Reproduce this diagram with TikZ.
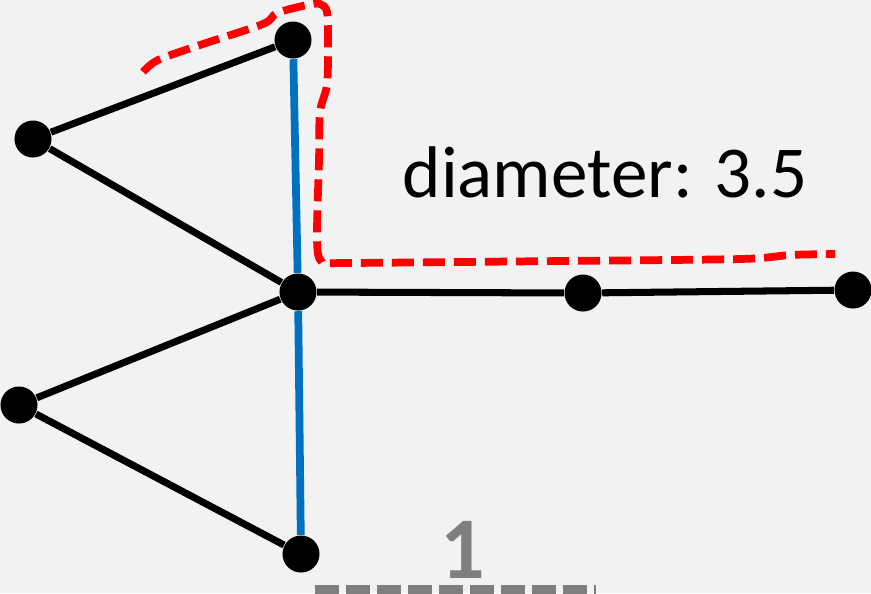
\documentclass[tikz,border=0pt]{standalone}
\usepackage{fontspec}
\setmainfont{Carlito}
\definecolor{bg}{HTML}{F2F2F2}
\definecolor{myblue}{HTML}{0070C0}
\definecolor{mygray}{HTML}{7F7F7F}
\begin{document}
\begin{tikzpicture}[x=0.01cm,y=-0.01cm,
  vtx/.style={circle,fill=black,minimum size=0.37cm,inner sep=0pt},
  edge/.style={line width=2pt,black},
  bedge/.style={line width=2.2pt,myblue},
  reddash/.style={line width=2.2pt,red,dash pattern=on 0.22cm off 0.09cm},
  graydash/.style={line width=3pt,mygray,dash pattern=on 0.24cm off 0.07cm}]
\fill[bg] (0,0) rectangle (871,593);
\useasboundingbox (0,0) rectangle (871,593);
% red dashed path
\draw[reddash] plot[smooth,tension=0.5] coordinates {(143,72) (158,60) (200,45) (263,24) (277,13) (307,5) (320,4) (327,12) (328,45) (327,85) (320,112) (319,160) (317,240) (322,262) (345,263) (560,261) (740,259) (790,255) (835,254)};
% gray dashed line
\coordinate (g1) at (315,590);
\coordinate (g2) at (596,590);
\draw[graydash] (g1) -- (g2);
% vertices
\node[vtx] (t) at (293,40) {};
\node[vtx] (lt) at (33,139) {};
\node[vtx] (c) at (298,292) {};
\node[vtx] (m) at (583,293) {};
\node[vtx] (r) at (853,290) {};
\node[vtx] (lb) at (19,405) {};
\node[vtx] (b) at (301,554) {};
% edges
\draw[edge] (t) -- (lt);
\draw[edge] (lt) -- (c);
\draw[edge] (c) -- (lb);
\draw[edge] (lb) -- (b);
\draw[edge] (c) -- (m);
\draw[edge] (m) -- (r);
\draw[bedge] (t) -- (c);
\draw[bedge] (c) -- (b);
% labels
\node[anchor=base,font=\fontsize{20.8}{25}\selectfont,inner sep=0pt] (lab) at (605,197) {diameter: 3.5};
\node[anchor=base,font=\fontsize{25}{30}\selectfont\bfseries,text=mygray,inner sep=0pt] (one) at (463,578) {1};
\end{tikzpicture}
\end{document}
